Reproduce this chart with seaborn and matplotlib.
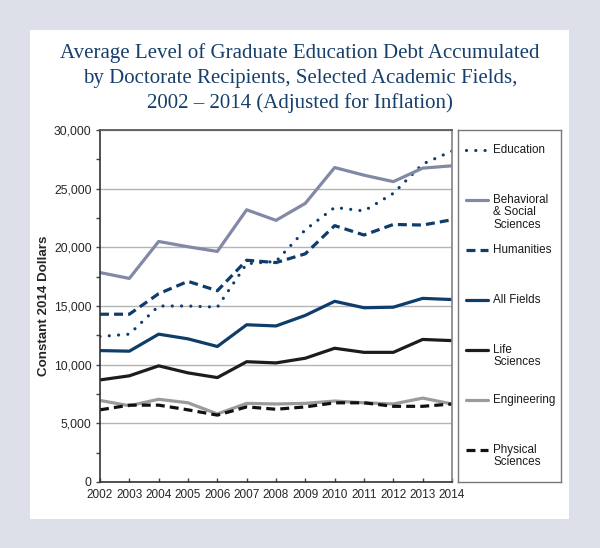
import matplotlib
matplotlib.use('Agg')
import matplotlib.pyplot as plt
from matplotlib.patches import Rectangle
import seaborn as sns

sns.set_theme(style='white')
plt.rcParams['font.family'] = ['Liberation Sans', 'DejaVu Sans']

# data -----------------------------------------------------------------------
years = list(range(2002, 2015))
fields = ['Education', 'Behavioral\n& Social\nSciences', 'Humanities', 'All Fields',
          'Life\nSciences', 'Engineering', 'Physical\nSciences']
education = [12400, 12600, 15000, 15000, 14900, 18600, 18800, 21500, 23400, 23100, 24600, 27100, 28200]
behavioral = [17850, 17350, 20500, 20050, 19650, 23200, 22300, 23750, 26800, 26150, 25600, 26750, 26950]
humanities = [14300, 14300, 16050, 17100, 16300, 18900, 18700, 19450, 21850, 21050, 21950, 21900, 22350]
all_fields = [11200, 11150, 12600, 12200, 11550, 13400, 13300, 14200, 15400, 14850, 14900, 15650, 15550]
life_sci = [8700, 9050, 9900, 9300, 8900, 10250, 10150, 10550, 11400, 11050, 11050, 12150, 12050]
engineering = [6950, 6500, 7050, 6750, 5800, 6700, 6650, 6700, 6900, 6750, 6650, 7150, 6650]
physical = [6150, 6550, 6550, 6150, 5700, 6400, 6200, 6400, 6750, 6750, 6450, 6450, 6650]
series = [education, behavioral, humanities, all_fields, life_sci, engineering, physical]
y_ticks = [0, 5000, 10000, 15000, 20000, 25000, 30000]

navy = '#0e3d6b'
colors = [navy, '#8189a7', navy, navy, '#1c1c1c', '#9b9b9b', '#111111']
styles = [(0, (0.01, 2.9)), '-', (0, (2.8, 1.6)), '-', '-', '-', (0, (2.8, 1.6))]
lw = 2.3

# figure ---------------------------------------------------------------------
W, H = 600, 548
fig = plt.figure(figsize=(6, 5.48), dpi=100)
fig.patch.set_facecolor('#dde0e9')
fig.patches.append(Rectangle((30 / W, 1 - 519 / H), 539 / W, 489 / H,
                             transform=fig.transFigure, facecolor='white',
                             edgecolor='none', zorder=-5))

ax = fig.add_axes([100 / W, 1 - 482 / H, 352 / W, 352 / H])

for name, vals, c, ls in zip(fields, series, colors, styles):
    sns.lineplot(x=years, y=vals, ax=ax, color=c, linestyle=ls, lw=lw,
                 label=name, legend=False, solid_capstyle='butt',
                 dash_capstyle='round' if name == 'Education' else 'butt')

ax.set_xlim(2002, 2014)
ax.set_ylim(0, 30000)
ax.set_xticks(years)
ax.set_yticks(y_ticks)
ax.set_yticks(range(2500, 30000, 5000), minor=True)
ax.set_yticklabels([f'{v:,}' for v in y_ticks])
ax.grid(axis='y', color='#b4b4b4', lw=1)
ax.set_axisbelow(True)
ax.tick_params(axis='y', which='both', direction='out', length=3, width=1,
               color='#444444', labelsize=8.7, pad=3, left=True)
ax.tick_params(axis='x', direction='in', length=3, width=1, color='#444444',
               labelsize=8.5, pad=5, bottom=True)
for s in ['left', 'bottom']:
    ax.spines[s].set_color('#333333')
    ax.spines[s].set_linewidth(1.2)
ax.spines['top'].set_color('#555555')
ax.spines['right'].set_color('#888888')
ax.set_xlabel('')
ax.set_ylabel('Constant 2014 Dollars', fontsize=9.6, fontweight='bold', labelpad=3)

# legend in its own framed box, one key every 50 px ---------------------------
lax = fig.add_axes([458 / W, 1 - 482 / H, 103 / W, 352 / H])
lax.set_xlim(0, 103)
lax.set_ylim(352, 0)
lax.set_xticks([])
lax.set_yticks([])
for s in lax.spines.values():
    s.set_color('#777777')
    s.set_linewidth(1)

for i, (name, c, ls) in enumerate(zip(fields, colors, styles)):
    yk = 20 + 50 * i
    lax.plot([8, 30], [yk, yk], color=c, linestyle=ls, lw=lw,
             dash_capstyle='round' if name == 'Education' else 'butt')
    lax.text(35, yk - 6, name, ha='left', va='top', fontsize=8.4,
             color='#1a1a1a', linespacing=1.05)

fig.text(0.5, 1 - 43 / H,
         'Average Level of Graduate Education Debt Accumulated\n'
         'by Doctorate Recipients, Selected Academic Fields,\n'
         '2002 – 2014 (Adjusted for Inflation)',
         ha='center', va='top', fontsize=15, color='#173f6b',
         family=['Liberation Serif', 'DejaVu Serif'], linespacing=1.4)

fig.savefig('out.png', dpi=100, facecolor=fig.get_facecolor())
